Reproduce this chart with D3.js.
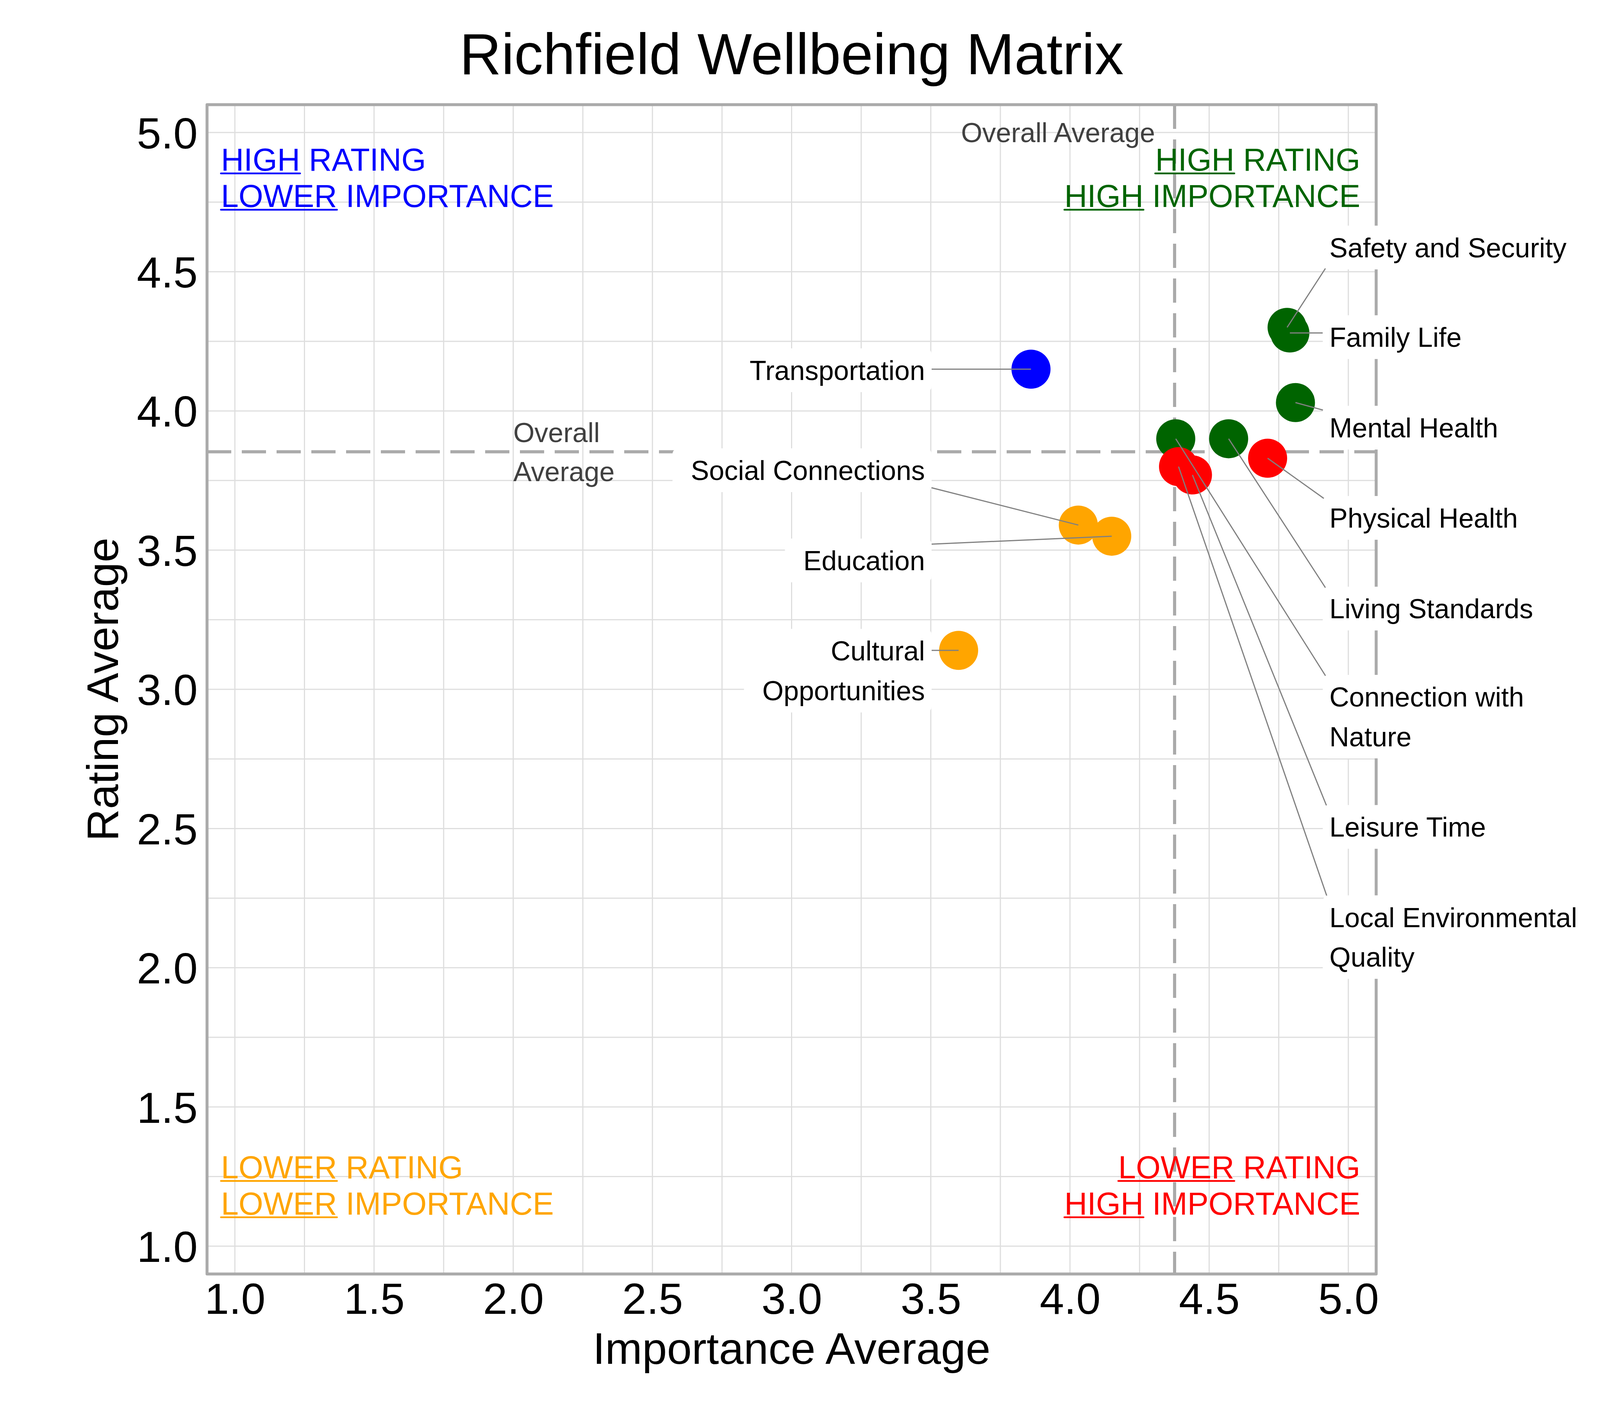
<!DOCTYPE html>
<html>
<head>
<meta charset="utf-8">
<script src="https://cdn.jsdelivr.net/npm/d3@7"></script>
<style>
body { margin: 0; background: #fff; }
text { font-family: "Liberation Sans", Arial, sans-serif; white-space: pre; }
</style>
</head>
<body>
<svg id="chart"></svg>
<script>
// Data
const names = ["Transportation", "Safety and Security", "Family Life", "Mental Health",
    "Connection with Nature", "Living Standards", "Physical Health", "Local Environmental Quality",
    "Leisure Time", "Social Connections", "Education", "Cultural Opportunities"];
const importance = [3.86, 4.78, 4.79, 4.81, 4.38, 4.57, 4.71, 4.39, 4.44, 4.03, 4.15, 3.60];
const rating = [4.15, 4.30, 4.28, 4.03, 3.90, 3.90, 3.83, 3.80, 3.77, 3.59, 3.55, 3.14];

// Label text (wrapped) and where the repelled labels ended up, in rating units
const labelLines = [["Transportation"], ["Safety and Security"], ["Family Life"], ["Mental Health"],
    ["Connection with", "Nature"], ["Living Standards"], ["Physical Health"], ["Local Environmental", "Quality"],
    ["Leisure Time"], ["Social Connections"], ["Education"], ["Cultural", "Opportunities"]];
const labelY = [4.146, 4.587, 4.265, 3.940, 2.902, 3.290, 3.616, 2.110, 2.506, 3.787, 3.463, 3.067];
const labelXLeft = 3.479;   // right edge of labels left of the average
const labelXRight = 4.932;  // left edge of labels right of the average

const ticks = [1.0, 1.5, 2.0, 2.5, 3.0, 3.5, 4.0, 4.5, 5.0];

// Quadrant captions: [underlined word, rest] per line
const quadrantText = {
    tl: [["HIGH", " RATING"], ["LOWER", " IMPORTANCE"]],
    tr: [["HIGH", " RATING"], ["HIGH", " IMPORTANCE"]],
    bl: [["LOWER", " RATING"], ["LOWER", " IMPORTANCE"]],
    br: [["LOWER", " RATING"], ["HIGH", " IMPORTANCE"]]
};
const quadrantColor = { tl: "#0000ff", tr: "#006400", bl: "#ffa500", br: "#ff0000" };

// Layout
const width = 4200, height = 3600;
const plot = { left: 530, right: 3523, top: 268, bottom: 3262 };

const svg = d3.select("#chart")
    .attr("width", width)
    .attr("height", height)
    .attr("viewBox", [0, 0, width, height]);

svg.append("rect").attr("width", width).attr("height", height).attr("fill", "#fff");

const x = d3.scaleLinear().domain([0.9, 5.1]).range([plot.left, plot.right]);
const y = d3.scaleLinear().domain([0.9, 5.1]).range([plot.bottom, plot.top]);

const avgX = d3.mean(importance);
const avgY = d3.mean(rating);

const quadOf = (ix, ry) => (ry >= avgY ? "t" : "b") + (ix >= avgX ? "r" : "l");

const items = names.map((name, i) => ({
    name,
    ix: importance[i],
    ry: rating[i],
    lines: labelLines[i],
    ly: labelY[i],
    right: importance[i] >= avgX
}));

// Grid
const gridVals = d3.range(1, 5.001, 0.25);
const grid = svg.append("g").attr("stroke", "#dedede").attr("stroke-width", 3);
grid.selectAll("line.v").data(gridVals).join("line")
    .attr("x1", d => x(d)).attr("x2", d => x(d))
    .attr("y1", plot.top).attr("y2", plot.bottom);
grid.selectAll("line.h").data(gridVals).join("line")
    .attr("y1", d => y(d)).attr("y2", d => y(d))
    .attr("x1", plot.left).attr("x2", plot.right);

// Panel border
svg.append("rect")
    .attr("x", plot.left).attr("y", plot.top)
    .attr("width", plot.right - plot.left).attr("height", plot.bottom - plot.top)
    .attr("fill", "none").attr("stroke", "#aaaaaa").attr("stroke-width", 7.5)
    .attr("stroke-linejoin", "round");

// Axes
const xAxis = svg.append("g")
    .attr("transform", `translate(0,${plot.bottom})`)
    .call(d3.axisBottom(x).tickValues(ticks).tickFormat(d3.format(".1f")).tickSize(0).tickPadding(22));
const yAxis = svg.append("g")
    .attr("transform", `translate(${plot.left},0)`)
    .call(d3.axisLeft(y).tickValues(ticks).tickFormat(d3.format(".1f")).tickSize(0).tickPadding(24));
[xAxis, yAxis].forEach(a => {
    a.select(".domain").remove();
    a.selectAll("text")
        .attr("font-family", "Liberation Sans, Arial, sans-serif")
        .attr("font-size", 112)
        .attr("fill", "#000");
});
yAxis.selectAll("text").attr("dy", "0.355em");

svg.append("text")
    .attr("x", (plot.left + plot.right) / 2).attr("y", 3492)
    .attr("text-anchor", "middle").attr("font-size", 114)
    .text("Importance Average");
svg.append("text")
    .attr("transform", `translate(302,${(plot.top + plot.bottom) / 2}) rotate(-90)`)
    .attr("text-anchor", "middle").attr("font-size", 114)
    .text("Rating Average");

// Title
svg.append("text")
    .attr("x", (plot.left + plot.right) / 2).attr("y", 190)
    .attr("text-anchor", "middle").attr("font-size", 148)
    .text("Richfield Wellbeing Matrix");

// Average lines
const avg = svg.append("g")
    .attr("stroke", "#aaaaaa").attr("stroke-width", 8).attr("stroke-dasharray", "62 27");
avg.append("line")
    .attr("x1", x(avgX)).attr("x2", x(avgX))
    .attr("y1", plot.top).attr("y2", plot.bottom);
avg.append("line")
    .attr("x1", plot.left).attr("x2", plot.right)
    .attr("y1", y(avgY)).attr("y2", y(avgY));

svg.append("text")
    .attr("x", x(avgX) - 50).attr("y", y(5.0) + 25)
    .attr("text-anchor", "end").attr("font-size", 70).attr("fill", "#404040")
    .text("Overall Average");
const avgLabel = svg.append("text")
    .attr("font-size", 70).attr("fill", "#404040");
["Overall", "Average"].forEach((s, i) => avgLabel.append("tspan")
    .attr("x", x(2.0)).attr("y", y(avgY) - 25 + i * 100).text(s));

// Quadrant captions
const quadPos = {
    tl: { x: x(0.95), y: y(4.863), anchor: "start" },
    tr: { x: x(5.043), y: y(4.863), anchor: "end" },
    bl: { x: x(0.95), y: y(1.244), anchor: "start" },
    br: { x: x(5.043), y: y(1.244), anchor: "end" }
};
Object.keys(quadrantText).forEach(k => {
    const p = quadPos[k];
    quadrantText[k].forEach((parts, i) => {
        const by = p.y + i * 93;
        const t = svg.append("text")
            .attr("x", p.x).attr("y", by)
            .attr("text-anchor", p.anchor)
            .attr("font-size", 81)
            .attr("fill", quadrantColor[k]);
        t.append("tspan").text(parts[0]);
        t.append("tspan").text(parts[1]);
        const node = t.node();
        const sx = node.getStartPositionOfChar(0).x;
        const wl = node.getSubStringLength(0, parts[0].length);
        svg.append("line")
            .attr("x1", sx).attr("x2", sx + wl)
            .attr("y1", by + 7).attr("y2", by + 7)
            .attr("stroke", quadrantColor[k]).attr("stroke-width", 4.6)
            .attr("stroke-linecap", "round");
    });
});

// Points
svg.append("g")
    .selectAll("circle")
    .data(items)
    .join("circle")
    .attr("cx", d => x(d.ix))
    .attr("cy", d => y(d.ry))
    .attr("r", 50)
    .attr("fill", d => quadrantColor[quadOf(d.ix, d.ry)]);

// Repelled labels with leader segments
const segLayer = svg.append("g").attr("stroke", "#808080").attr("stroke-width", 3);
const labelLayer = svg.append("g");
const lineH = 101.8, padNear = 17, padFar = 47, corner = 15;

items.forEach(d => {
    const n = d.lines.length;
    const h = 112 + (n - 1) * lineH;
    const top = y(d.ly) - h / 2;
    const ax = x(d.right ? labelXRight : labelXLeft);

    const g = labelLayer.append("g");
    const box = g.append("rect");
    const t = g.append("text")
        .attr("font-size", 70)
        .attr("fill", "#000")
        .attr("text-anchor", d.right ? "start" : "end");
    d.lines.forEach((s, i) => t.append("tspan")
        .attr("x", ax).attr("y", top + 81 + i * lineH).text(s));
    const w = d3.max(t.selectAll("tspan").nodes(), el => el.getComputedTextLength());

    const x0 = d.right ? ax - padNear : ax - w - padFar;
    const x1 = d.right ? ax + w + padFar : ax + padNear;
    box.attr("x", x0).attr("y", top)
        .attr("width", x1 - x0).attr("height", h)
        .attr("rx", corner).attr("fill", "#fff");

    // nearest point on the rounded box
    const px = x(d.ix), py = y(d.ry);
    const qx = Math.max(x0 + corner, Math.min(px, x1 - corner));
    const qy = Math.max(top + corner, Math.min(py, top + h - corner));
    const dx = px - qx, dy = py - qy;
    const dist = Math.hypot(dx, dy) || 1;
    const ex = dx === 0 && dy === 0 ? qx : qx + dx / dist * corner;
    const ey = dx === 0 && dy === 0 ? qy : qy + dy / dist * corner;
    segLayer.append("line")
        .attr("x1", px).attr("y1", py)
        .attr("x2", ex).attr("y2", ey);
});
</script>
</body>
</html>
